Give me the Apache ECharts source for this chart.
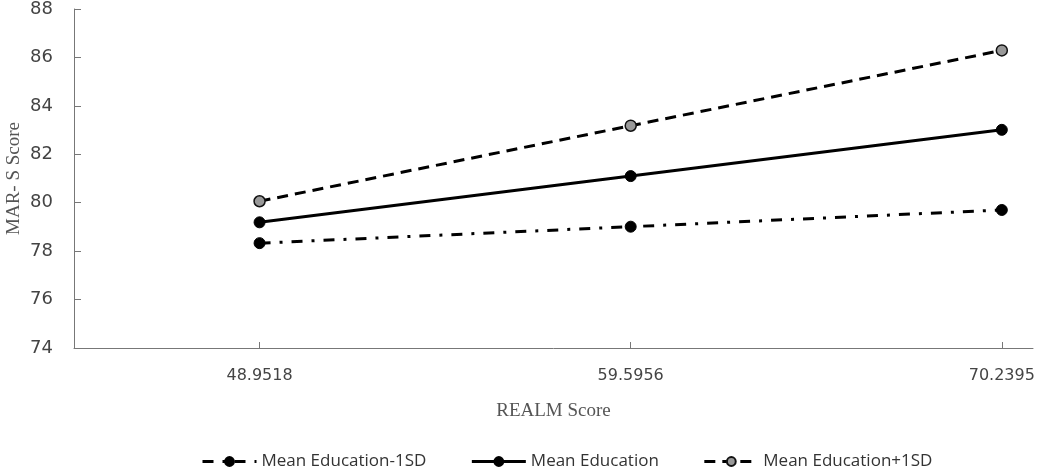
<!DOCTYPE html>
<html><head><meta charset="utf-8">
<script src="https://cdn.jsdelivr.net/npm/echarts@6/dist/echarts.min.js"></script>
<style>html,body{margin:0;padding:0;background:#fff}#c{width:1050px;height:476px}</style>
</head><body><div id="c"></div>
<script>
const realmScores = [48.9518, 59.5956, 70.2395];
const realmLabels = ['48.9518', '59.5956', '70.2395'];
const seriesNames = ['Mean Education-1SD', 'Mean Education', 'Mean Education+1SD'];
const lowEdu = [78.33, 79.01, 79.70];
const meanEdu = [79.19, 81.10, 83.01];
const highEdu = [80.06, 83.18, 86.29];
const yTicks = [74, 76, 78, 80, 82, 84, 86, 88];

const pair = (vals) => realmScores.map((x, i) => [x, vals[i]]);
const step = realmScores[1] - realmScores[0];

const chart = echarts.init(document.getElementById('c'));
chart.setOption({
  animation: false,
  grid: { left: 74, right: 17, top: 9, bottom: 128, containLabel: false, outerBoundsMode: 'none' },
  xAxis: {
    type: 'value',
    min: realmScores[0] - step * 0.5,
    max: realmScores[2] + step * 0.084,
    name: 'REALM Score', nameLocation: 'middle', nameGap: 54, nameMoveOverlap: false,
    nameTextStyle: { fontFamily: 'Liberation Serif', fontSize: 19, color: '#555' },
    splitLine: { show: false },
    axisLine: { show: true, lineStyle: { color: '#777', width: 1 } },
    axisTick: { show: true, inside: false, length: -6, customValues: realmScores, lineStyle: { color: '#777' } },
    axisLabel: { customValues: realmScores, margin: 20, fontFamily: 'DejaVu Sans', fontSize: 16, color: '#444',
      formatter: (v) => { const i = realmScores.findIndex(r => Math.abs(r - v) < 1e-6); return i >= 0 ? realmLabels[i] : ''; } }
  },
  yAxis: {
    type: 'value', min: 74, max: 88, interval: 2,
    name: 'MAR- S Score', nameLocation: 'middle', nameGap: 50, nameMoveOverlap: false,
    nameTextStyle: { fontFamily: 'Liberation Serif', fontSize: 19, color: '#555' },
    splitLine: { show: false },
    axisLine: { show: true, lineStyle: { color: '#777', width: 1 } },
    axisTick: { show: true, inside: false, length: -7, lineStyle: { color: '#777' } },
    axisLabel: { margin: 21, fontFamily: 'DejaVu Sans', fontSize: 18, color: '#444',
      customValues: yTicks }
  },
  legend: {
    bottom: 1, left: 196, itemGap: 44, itemWidth: 54, itemHeight: 11,
    textStyle: { fontFamily: 'Open Sans', fontSize: 17, color: '#333' },
    lineStyle: { width: 3 },
    data: seriesNames
  },
  series: [
    { name: seriesNames[0], type: 'line', data: pair(lowEdu), symbol: 'circle', symbolSize: 11,
      lineStyle: { color: '#000', width: 3, type: [11, 9, 3, 9] },
      itemStyle: { color: '#000', borderColor: '#000', borderWidth: 1 } },
    { name: seriesNames[1], type: 'line', data: pair(meanEdu), symbol: 'circle', symbolSize: 11,
      lineStyle: { color: '#000', width: 3, type: 'solid' },
      itemStyle: { color: '#000', borderColor: '#000', borderWidth: 1 } },
    { name: seriesNames[2], type: 'line', data: pair(highEdu), symbol: 'circle', symbolSize: 11,
      lineStyle: { color: '#000', width: 3, type: [11, 7] },
      itemStyle: { color: '#999', borderColor: '#111', borderWidth: 1.5 } }
  ]
});
</script></body></html>
